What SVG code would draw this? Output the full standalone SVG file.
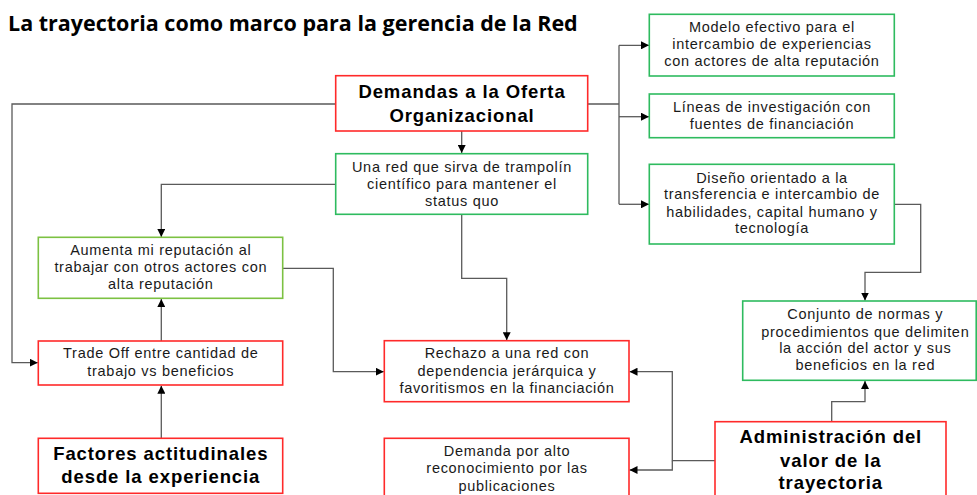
<svg xmlns="http://www.w3.org/2000/svg" width="977" height="495" viewBox="0 0 977 495">
<style>
text{font-family:"Liberation Sans",Arial,sans-serif;fill:#1a1a1a;}
.t{font-size:14.5px;letter-spacing:0.7px;text-anchor:middle;}
.b{font-size:18.5px;font-weight:bold;letter-spacing:0.9px;text-anchor:middle;fill:#000;}
.title{font-family:"Open Sans","DejaVu Sans",sans-serif;font-size:21.5px;font-weight:bold;fill:#000;}
.red{fill:#fff;stroke:#ff2a2a;stroke-width:1.6;}
.grn{fill:#fff;stroke:#2ebb5f;stroke-width:1.6;}
.lg{fill:#fff;stroke:#7cc142;stroke-width:1.6;}
.c{fill:none;stroke:#5a5a5a;stroke-width:1.3;}
</style>
<defs>
<marker id="ar" viewBox="0 0 10 10" refX="10" refY="5" markerWidth="8" markerHeight="8" markerUnits="userSpaceOnUse" orient="auto">
<path d="M0,0 L10,5 L0,10 z" fill="#000"/>
</marker>
</defs>
<rect width="977" height="495" fill="#fff"/>
<text class="title" x="8" y="31">La trayectoria como marco para la gerencia de la Red</text>

<g id="connectors">
<path class="c" d="M461.7,131 V153" marker-end="url(#ar)"/>
<path class="c" d="M587.7,104 H619 M619,45.3 V204.3 M619,45.3 H649" marker-end="url(#ar)"/>
<path class="c" d="M619,116.7 H649" marker-end="url(#ar)"/>
<path class="c" d="M619,204.3 H649" marker-end="url(#ar)"/>
<path class="c" d="M894.3,204.3 H920.7 V272.3 H865 V300.5" marker-end="url(#ar)"/>
<path class="c" d="M831.7,421.7 V401.7 H865 V381" marker-end="url(#ar)"/>
<path class="c" d="M715,460.7 H672.3 V371.7 H629.5" marker-end="url(#ar)"/>
<path class="c" d="M672.3,460.7 V470 H629.5" marker-end="url(#ar)"/>
<path class="c" d="M461.7,214.3 V278.3 H506.7 V340.2" marker-end="url(#ar)"/>
<path class="c" d="M335.7,184.3 H161.3 V237" marker-end="url(#ar)"/>
<path class="c" d="M161.3,341 V299" marker-end="url(#ar)"/>
<path class="c" d="M161.3,438.3 V385.7" marker-end="url(#ar)"/>
<path class="c" d="M335.7,104 H12 V362.7 H37.8" marker-end="url(#ar)"/>
<path class="c" d="M282.7,268.3 H333.3 V371.7 H383.8" marker-end="url(#ar)"/>
</g>

<g id="demandas">
<rect class="red" x="335.7" y="75.7" width="252" height="55.3"/>
<text class="b" x="462" y="98">Demandas a la Oferta</text>
<text class="b" x="462" y="121.5">Organizacional</text>
</g>
<g id="unared">
<rect class="grn" x="335.7" y="153.7" width="252" height="60.6"/>
<text class="t" x="462" y="171.5">Una red que sirva de trampolín</text>
<text class="t" x="462" y="188.8">científico para mantener el</text>
<text class="t" x="462" y="205.6">status quo</text>
</g>
<g id="modelo">
<rect class="grn" x="649.3" y="14.3" width="245" height="61.7"/>
<text class="t" x="772" y="31.7">Modelo efectivo para el</text>
<text class="t" x="772" y="49">intercambio de experiencias</text>
<text class="t" x="772" y="66">con actores de alta reputación</text>
</g>
<g id="lineas">
<rect class="grn" x="649.3" y="94" width="245" height="43.7"/>
<text class="t" x="772" y="111.7">Líneas de investigación con</text>
<text class="t" x="772" y="128.7">fuentes de financiación</text>
</g>
<g id="diseno">
<rect class="grn" x="649.3" y="164.3" width="245" height="79.7"/>
<text class="t" x="772" y="182.7">Diseño orientado a la</text>
<text class="t" x="772" y="199.3">transferencia e intercambio de</text>
<text class="t" x="772" y="216.7">habilidades, capital humano y</text>
<text class="t" x="772" y="233.3">tecnología</text>
</g>
<g id="conjunto">
<rect class="grn" x="742.7" y="301" width="233.5" height="79.3"/>
<text class="t" x="865.3" y="319.3">Conjunto de normas y</text>
<text class="t" x="865.3" y="336.7">procedimientos que delimiten</text>
<text class="t" x="865.3" y="353.3">la acción del actor y sus</text>
<text class="t" x="865.3" y="370">beneficios en la red</text>
</g>
<g id="administracion">
<rect class="red" x="715" y="421.7" width="231" height="90"/>
<text class="b" x="830.8" y="443.3">Administración del</text>
<text class="b" x="830.8" y="466.7">valor de la</text>
<text class="b" x="830.8" y="489.3">trayectoria</text>
</g>
<g id="rechazo">
<rect class="red" x="384.3" y="340.7" width="244.7" height="61"/>
<text class="t" x="507" y="358.3">Rechazo a una red con</text>
<text class="t" x="507" y="376">dependencia jerárquica y</text>
<text class="t" x="507" y="393.3">favoritismos en la financiación</text>
</g>
<g id="demanda">
<rect class="red" x="384.3" y="438.3" width="244.7" height="70"/>
<text class="t" x="507" y="456">Demanda por alto</text>
<text class="t" x="507" y="473.3">reconocimiento por las</text>
<text class="t" x="507" y="490.7">publicaciones</text>
</g>
<g id="aumenta">
<rect class="lg" x="38.3" y="237.3" width="244.4" height="61"/>
<text class="t" x="160.8" y="255">Aumenta mi reputación al</text>
<text class="t" x="160.8" y="272.3">trabajar con otros actores con</text>
<text class="t" x="160.8" y="289.3">alta reputación</text>
</g>
<g id="tradeoff">
<rect class="red" x="38.3" y="341" width="244.4" height="44"/>
<text class="t" x="160.8" y="358.3">Trade Off entre cantidad de</text>
<text class="t" x="160.8" y="375.7">trabajo vs beneficios</text>
</g>
<g id="factores">
<rect class="red" x="38.3" y="438.3" width="244.4" height="55"/>
<text class="b" x="160.8" y="460">Factores actitudinales</text>
<text class="b" x="160.8" y="483.3">desde la experiencia</text>
</g>
</svg>
